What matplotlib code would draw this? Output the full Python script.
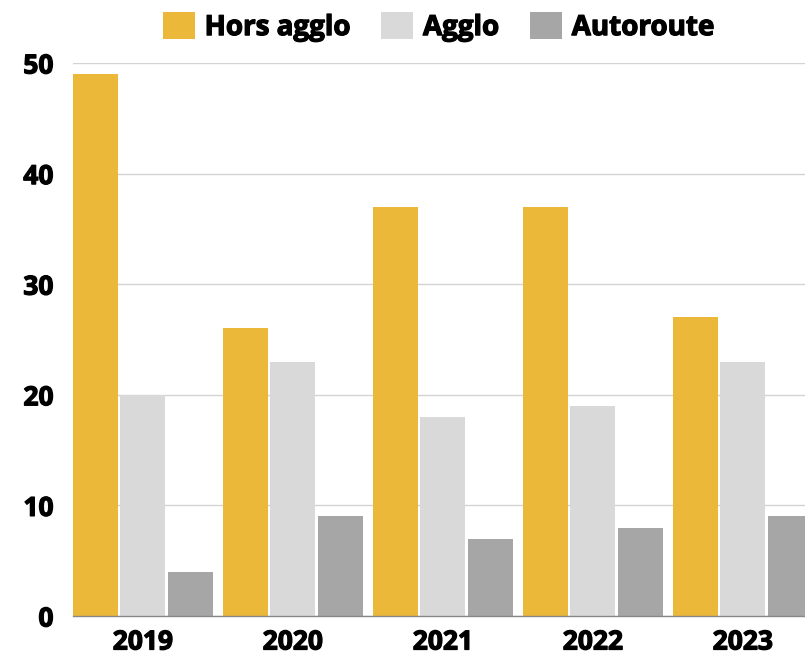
import matplotlib
matplotlib.use("Agg")
import matplotlib.pyplot as plt
import matplotlib.patheffects as pe
import numpy as np

years = ["2019", "2020", "2021", "2022", "2023"]
series_names = ["Hors agglo", "Agglo", "Autoroute"]
hors_agglo = [49, 26, 37, 37, 27]
agglo = [20, 23, 18, 19, 23]
autoroute = [4, 9, 7, 8, 9]
colors = ["#EBB83A", "#D9D9D9", "#A6A6A6"]
yticks = [0, 10, 20, 30, 40, 50]

plt.rcParams['font.family'] = ['Open Sans', 'DejaVu Sans']
heavy = [pe.withStroke(linewidth=0.9, foreground='black')]

fig = plt.figure(figsize=(8.05, 6.56), dpi=100)
ax = fig.add_axes([73/805, 40/656, 732/805, 553/656])

x = np.arange(len(years))
step = 0.3155
width = 0.30
for i, (vals, name, c) in enumerate(zip([hors_agglo, agglo, autoroute], series_names, colors)):
    ax.bar(x + (i - 1) * step, vals, width=width, color=c, label=name, zorder=3)

ax.set_xlim(-step - width / 2, -step - width / 2 + 732 / 150)
ax.set_ylim(0, 50)
ax.set_yticks(yticks)
ax.set_yticklabels([str(v) for v in yticks], fontsize=19, fontweight='bold')
ax.set_xticks(x)
ax.set_xticklabels(years, fontsize=19, fontweight='bold')
for t in ax.get_xticklabels() + ax.get_yticklabels():
    t.set_path_effects(heavy)
ax.tick_params(axis='both', length=0)
ax.tick_params(axis='y', pad=14)
ax.tick_params(axis='x', pad=9)
ax.grid(axis='y', color='#D3D3D3', linewidth=1, zorder=0)
for s in ['top', 'right', 'left']:
    ax.spines[s].set_visible(False)
ax.spines['bottom'].set_color('#888888')
ax.spines['bottom'].set_linewidth(1)
ax.spines['bottom'].set_zorder(4)

leg = fig.legend(loc='center', bbox_to_anchor=(438.5/805, 1 - 27/656), ncol=3, frameon=False,
                 prop={'size': 20, 'weight': 'bold'}, handlelength=1.15, handleheight=1.15,
                 handletextpad=0.36, columnspacing=1.1, borderpad=0, borderaxespad=0)
for t in leg.get_texts():
    t.set_path_effects(heavy)

fig.savefig("out.png", dpi=100)
